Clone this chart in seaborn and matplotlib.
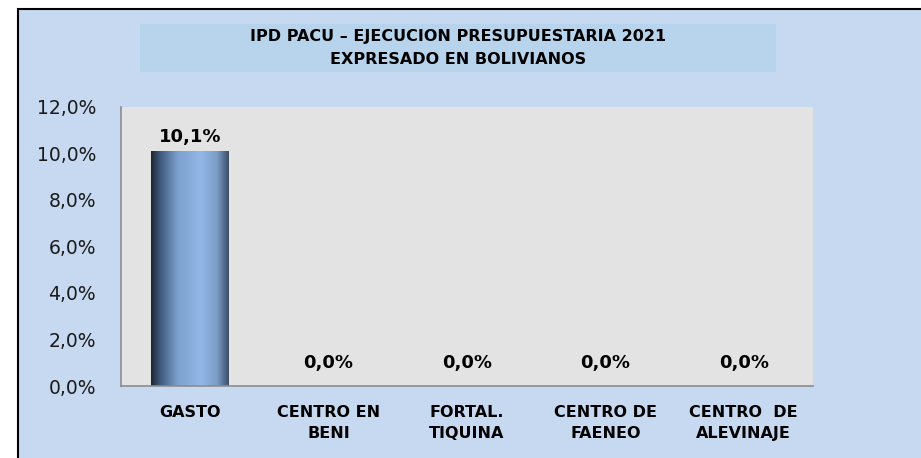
import numpy as np
import pandas as pd
import seaborn as sns
import matplotlib.pyplot as plt
from matplotlib.patches import Rectangle
from matplotlib.colors import LinearSegmentedColormap
from matplotlib.ticker import FuncFormatter

categories = ["GASTO", "CENTRO EN\nBENI", "FORTAL.\nTIQUINA", "CENTRO DE\nFAENEO", "CENTRO  DE\nALEVINAJE"]
percent = [10.1, 0.0, 0.0, 0.0, 0.0]
y_ticks = [0, 2, 4, 6, 8, 10, 12]

title = "IPD PACU – EJECUCION PRESUPUESTARIA 2021\nEXPRESADO EN BOLIVIANOS"

df = pd.DataFrame({"categoria": categories, "porcentaje": percent})

sns.set_style("white")
plt.rcParams["font.family"] = ["DejaVu Sans"]
plt.rcParams["text.color"] = "black"

fig = plt.figure(figsize=(9.21, 4.58), dpi=100)
fig.patch.set_facecolor("white")

# panel de fondo con borde
fig.patches.append(Rectangle((18 / 921, -0.01), 1.0, 1 - 9 / 458 + 0.01,
                             transform=fig.transFigure, facecolor="#c6d9f0",
                             edgecolor="black", linewidth=1.5, zorder=-2))
# caja del titulo
fig.patches.append(Rectangle((140 / 921, 1 - 72 / 458), 636 / 921, 48 / 458,
                             transform=fig.transFigure, facecolor="#b8d3ec",
                             edgecolor="none", zorder=-1))
fig.text(458 / 921, 1 - 48 / 458, title, ha="center", va="center",
         fontsize=11.5, fontweight="bold", color="black", linespacing=1.6)

ax = fig.add_axes([121 / 921, 1 - 386 / 458, 692 / 921, 279 / 458])
ax.set_facecolor("#e3e3e3")

sns.barplot(data=df, x="categoria", y="porcentaje", ax=ax, width=0.56,
            color="#8fb4e3", edgecolor="none")

ax.set_yticks(y_ticks)
ax.yaxis.set_major_formatter(FuncFormatter(lambda v, p: f"{v:.1f}%".replace(".", ",")))

# degradado tipo cilindro en las barras
cmap = LinearSegmentedColormap.from_list(
    "cil", [(0.0, "#1a2533"), (0.12, "#3f5a7c"), (0.35, "#7ea2cf"),
            (0.65, "#93b8e8"), (0.85, "#7b9cc6"), (1.0, "#3a4f6a")])
grad = np.linspace(0, 1, 256).reshape(1, -1)
for bar in ax.patches:
    h = bar.get_height()
    if h <= 0:
        continue
    x0 = bar.get_x()
    w = bar.get_width()
    img = ax.imshow(grad, extent=[x0, x0 + w, 0, h], aspect="auto",
                    cmap=cmap, zorder=bar.get_zorder(), interpolation="bicubic")
    img.set_clip_path(bar)
    bar.set_facecolor("none")
ax.set_xlim(-0.5, len(categories) - 0.5)
ax.set_ylim(0, 12)

for i, v in enumerate(percent):
    ax.annotate(f"{v:.1f}%".replace(".", ","), (i, v), xytext=(0, 4 if v > 0 else 10),
                textcoords="offset points", ha="center", va="bottom",
                fontsize=13, fontweight="bold", color="black")

for side in ["top", "right"]:
    ax.spines[side].set_visible(False)
for side in ["left", "bottom"]:
    ax.spines[side].set_color("#8c8c8c")
    ax.spines[side].set_linewidth(1.2)

ax.tick_params(axis="y", direction="out", length=6, color="#8c8c8c",
               labelsize=13.5, labelcolor="#1a1a1a", pad=12)
ax.set_xticks(range(len(categories)))
ax.set_xticklabels(categories, fontsize=11.5, fontweight="bold",
                   color="black", linespacing=1.45)
ax.tick_params(axis="x", length=0, pad=14)
ax.set_xticks(np.arange(-0.5, len(categories)), minor=True)
ax.tick_params(axis="x", which="minor", direction="out", length=6,
               color="#8c8c8c", width=1.2)

ax.set_xlabel("")
ax.set_ylabel("")

fig.savefig("out.png", dpi=100)
